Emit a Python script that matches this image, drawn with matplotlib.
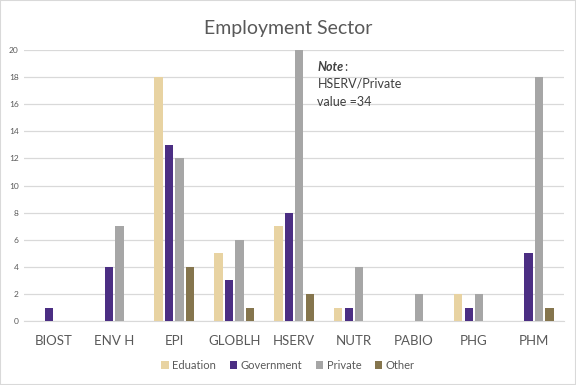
import matplotlib
matplotlib.use("Agg")
from matplotlib import pyplot as plt
from matplotlib.patches import Rectangle
import numpy as np

categories = ["BIOST", "ENV H", "EPI", "GLOBLH", "HSERV", "NUTR", "PABIO", "PHG", "PHM"]
series_names = ["Eduation", "Government", "Private", "Other"]
education = [0, 0, 18, 5, 7, 1, 0, 2, 0]
government = [1, 4, 13, 3, 8, 1, 0, 1, 5]
private = [0, 7, 12, 6, 34, 4, 2, 2, 18]
other = [0, 0, 4, 1, 2, 0, 0, 0, 1]
y_ticks = [0, 2, 4, 6, 8, 10, 12, 14, 16, 18, 20]

colors = ["#E8D3A2", "#4B2E83", "#A6A6A6", "#85754D"]


def main():
    plt.rcParams["font.family"] = ["Lato", "DejaVu Sans"]
    fig = plt.figure(figsize=(5.76, 3.85), dpi=100)
    fig.patches.append(Rectangle((0, 0), 1, 1, transform=fig.transFigure,
                                 fill=False, edgecolor="#D9D9D9", linewidth=1.5))
    ax = fig.add_axes([0.042, 0.166, 0.937, 0.704])

    x = np.arange(len(categories))
    slot = 0.175
    width = 0.14
    data = [education, government, private, other]
    for i, (vals, name, c) in enumerate(zip(data, series_names, colors)):
        ax.bar(x + (i - 1.5) * slot, vals, width, color=c, label=name, zorder=3)

    ax.set_ylim(0, 20)
    ax.set_xlim(-0.5, len(categories) - 0.5)
    ax.set_yticks(y_ticks)
    ax.set_yticklabels([str(t) for t in y_ticks], fontsize=6, color="#595959")
    ax.set_xticks(x)
    ax.set_xticklabels(categories, fontsize=9.5, color="#595959")
    ax.tick_params(axis="both", length=0)
    ax.tick_params(axis="x", pad=10)
    ax.tick_params(axis="y", pad=4)
    ax.yaxis.grid(True, color="#D9D9D9", linewidth=0.9, zorder=0)
    for s in ["top", "right", "left"]:
        ax.spines[s].set_visible(False)
    ax.spines["bottom"].set_color("#D9D9D9")

    fig.text(0.5, 0.927, "Employment Sector", ha="center", va="center",
             fontsize=14, color="#595959")

    # note next to the clipped HSERV/Private bar
    note = ax.text(4.39, 18.75, "Note", fontsize=9, fontweight="bold",
                   fontstyle="italic", color="#404040", va="center")
    ax.annotate(":", xy=(1, 0.5), xycoords=note, xytext=(0.5, 0),
                textcoords="offset points", fontsize=9, color="#404040",
                va="center", ha="left")
    ax.text(4.39, 17.5, "HSERV/Private", fontsize=9, color="#404040", va="center")
    ax.text(4.39, 16.15, "value =34", fontsize=9, color="#404040", va="center")

    fig.legend(loc="center", bbox_to_anchor=(0.5, 0.05), ncol=4, frameon=False,
               fontsize=8, handlelength=0.7, handleheight=0.7, handletextpad=0.3,
               columnspacing=1.2, labelcolor="#595959")

    fig.savefig("out.png", dpi=100)


if __name__ == '__main__':
    main()
